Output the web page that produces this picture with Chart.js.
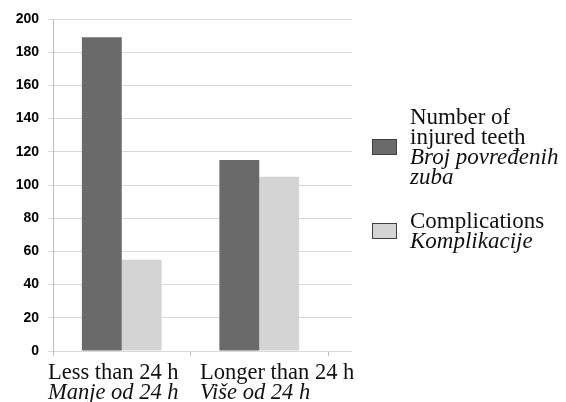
<!DOCTYPE html>
<html><head><meta charset="utf-8">
<script src="https://cdn.jsdelivr.net/npm/chart.js@4.4.1/dist/chart.umd.min.js"></script>
<style>
html,body{margin:0;padding:0;background:#fff;overflow:hidden}
#wrap{position:relative;width:566px;height:402px}
#legend{position:absolute;left:372px;top:0;font-family:"Liberation Serif",serif;font-size:23px;line-height:20px;color:#111}
.item{position:absolute;left:0;display:flex;align-items:center}
.box{width:23px;height:14px;border:1px solid #404040;margin-right:13px;flex:none}
.txt{width:160px}
.sr{font-style:italic}
</style></head><body>
<div id="wrap"><canvas id="c" width="566" height="402"></canvas><div id="legend"></div></div>
<script>
const categories = ['Less than 24 h', 'Longer than 24 h'];
const categoriesSr = ['Manje od 24 h', 'Više od 24 h'];
const seriesNames = ['Number of injured teeth', 'Complications'];
const seriesNamesSr = ['Broj povređenih zuba', 'Komplikacije'];
const injuredTeeth = [189, 115];
const complications = [55, 105];
const seriesColors = ['#6a6a6a', '#d4d4d4'];

// Fit the category axis (bars) and the label axes within the plot area
const xSpan = {
  id: 'xSpan',
  afterLayout(chart) {
    const spans = {x: 0.92, x2: 0.508, x3: 0.508};
    for (const id in spans) {
      const s = chart.scales[id];
      const w = Math.round(chart.chartArea.width * spans[id]);
      s.right = s.left + w;
      s.width = w;
      s.configure();
    }
  }
};

const labelTicks = {align: 'start', labelOffset: -5, mirror: true, color: '#111', maxRotation: 0, autoSkip: false};

new Chart(document.getElementById('c'), {
  type: 'bar',
  data: {
    labels: categories,
    datasets: [
      {label: seriesNames[0], data: injuredTeeth, backgroundColor: seriesColors[0], borderWidth: 0},
      {label: seriesNames[1], data: complications, backgroundColor: seriesColors[1], borderWidth: 0}
    ]
  },
  options: {
    responsive: false,
    animation: false,
    layout: {padding: {top: 19, right: 214, left: 0, bottom: 0}},
    plugins: {legend: {display: false}, tooltip: {enabled: false}},
    datasets: {bar: {categoryPercentage: 0.58, barPercentage: 1}},
    scales: {
      x: {
        type: 'category', position: 'bottom', weight: 0, offset: true,
        border: {display: false},
        grid: {offset: true, drawOnChartArea: false, tickLength: 5, color: '#bfbfbf'},
        ticks: {display: false},
        afterFit: s => { s.height = 5; }
      },
      x2: {
        type: 'category', position: 'bottom', weight: 1, offset: false,
        border: {display: false},
        grid: {display: false, drawTicks: false},
        ticks: Object.assign({}, labelTicks, {padding: -28.5, font: {family: 'Liberation Serif', size: 22.5, lineHeight: 1}}),
        afterFit: s => { s.height = 20; }
      },
      x3: {
        type: 'category', position: 'bottom', weight: 2, offset: false,
        border: {display: false},
        grid: {display: false, drawTicks: false},
        ticks: Object.assign({}, labelTicks, {padding: -28, font: {family: 'Liberation Serif', size: 22.5, style: 'italic', lineHeight: 1},
          callback: (v, i) => categoriesSr[i]}),
        afterFit: s => { s.height = 26; }
      },
      y: {
        min: 0, max: 200,
        border: {color: '#bfbfbf'},
        grid: {color: '#d9d9d9', tickLength: 5},
        ticks: {stepSize: 20, padding: 9, color: '#000', font: {family: 'Liberation Sans', size: 14, weight: 'bold'}},
        afterFit: s => { s.width = 53; }
      }
    }
  },
  plugins: [xSpan]
});

// HTML legend
const legend = document.getElementById('legend');
const tops = [107, 211];
seriesNames.forEach((name, i) => {
  const item = document.createElement('div');
  item.className = 'item';
  item.style.top = tops[i] + 'px';
  const box = document.createElement('div');
  box.className = 'box';
  box.style.background = seriesColors[i];
  const txt = document.createElement('div');
  txt.className = 'txt';
  const en = document.createElement('div');
  en.textContent = name;
  const sr = document.createElement('div');
  sr.className = 'sr';
  sr.textContent = seriesNamesSr[i];
  txt.appendChild(en); txt.appendChild(sr);
  item.appendChild(box); item.appendChild(txt);
  legend.appendChild(item);
});
</script>
</body></html>
